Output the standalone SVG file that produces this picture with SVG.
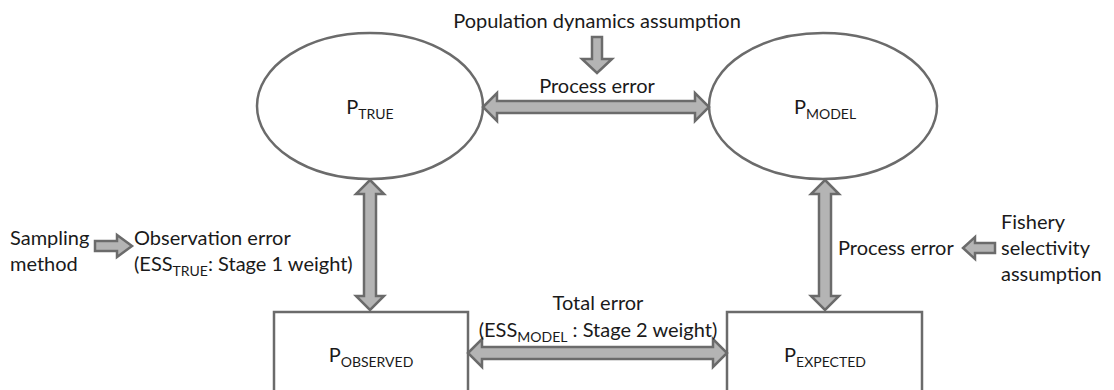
<svg xmlns="http://www.w3.org/2000/svg" width="1114" height="390" viewBox="0 0 1114 390">
<style>
text{font-family:Lato,"Open Sans","Liberation Sans",sans-serif;font-size:20px;fill:#1a1a1a}
.sub{font-size:14px}
.node{fill:#fff;stroke:#6b6b6b;stroke-width:2.5}
.arr{fill:#b4b4b4;stroke:#6b6b6b;stroke-width:2.5;stroke-linejoin:miter}
</style>
<rect width="1114" height="390" fill="#fff"/>
<g id="p-true"><ellipse class="node" cx="370" cy="106" rx="113" ry="73"/><text x="370" y="114" text-anchor="middle">P<tspan class="sub" dy="5">TRUE</tspan></text></g>
<g id="p-model"><ellipse class="node" cx="823" cy="106" rx="114" ry="73"/><text x="825" y="114" text-anchor="middle">P<tspan class="sub" dy="5">MODEL</tspan></text></g>
<g id="p-observed"><rect class="node" x="274" y="312" width="194" height="90"/><text x="371" y="362" text-anchor="middle">P<tspan class="sub" dy="5">OBSERVED</tspan></text></g>
<g id="p-expected"><rect class="node" x="727" y="312" width="195" height="90"/><text x="825" y="362" text-anchor="middle">P<tspan class="sub" dy="5">EXPECTED</tspan></text></g>
<g id="connectors">
<polygon class="arr" points="483,107 497,93 497,101 695,101 695,93 709,107 695,121 695,113 497,113 497,121"/>
<polygon class="arr" points="592,37 602,37 602,59 612,59 597,73 582,59 592,59"/>
<polygon class="arr" points="370,180 384,194 376,194 376,296 384,296 370,310 356,296 364,296 364,194 356,194"/>
<polygon class="arr" points="825,180 839,194 831,194 831,296 839,296 825,310 811,296 819,296 819,194 811,194"/>
<polygon class="arr" points="468,353 482,339 482,347 713,347 713,339 727,353 713,367 713,359 482,359 482,367"/>
<polygon class="arr" points="95,241 117,241 117,235 132,246 117,257 117,251 95,251"/>
<polygon class="arr" points="995,243 975,243 975,237 963,248 975,259 975,253 995,253"/>
</g>
<g id="labels">
<text x="597" y="28" text-anchor="middle">Population dynamics assumption</text>
<text x="597" y="93" text-anchor="middle">Process error</text>
<text x="10" y="245">Sampling</text>
<text x="10" y="271">method</text>
<text x="134" y="245">Observation error</text>
<text x="134" y="271">(ESS<tspan class="sub" dy="5">TRUE</tspan><tspan dy="-5">: Stage 1 weight)</tspan></text>
<text x="598" y="310" text-anchor="middle">Total error</text>
<text x="598" y="337" text-anchor="middle">(ESS<tspan class="sub" dy="5">MODEL</tspan><tspan dy="-5"> : Stage 2 weight)</tspan></text>
<text x="838" y="255">Process error</text>
<text x="1001" y="229">Fishery</text>
<text x="1001" y="255">selectivity</text>
<text x="1001" y="281">assumption</text>
</g>
</svg>
